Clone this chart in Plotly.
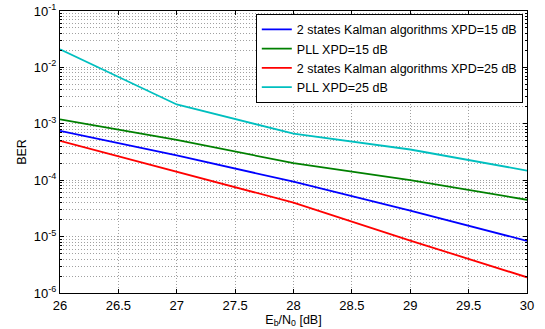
import plotly.graph_objects as go

ebn0 = [26, 27, 28, 29, 30]
kalman_15 = [7.5e-4, 2.75e-4, 9.4e-5, 2.9e-5, 8.4e-6]
pll_15 = [1.2e-3, 5.2e-4, 2.0e-4, 1.0e-4, 4.5e-5]
kalman_25 = [5.0e-4, 1.42e-4, 4.0e-5, 8.5e-6, 1.9e-6]
pll_25 = [2.1e-2, 2.2e-3, 6.7e-4, 3.5e-4, 1.48e-4]

names = ["2 states Kalman algorithms XPD=15 dB", "PLL XPD=15 dB",
         "2 states Kalman algorithms XPD=25 dB", "PLL XPD=25 dB"]
colors = ["#0000ff", "#008000", "#ff0000", "#00bfbf"]
series = [kalman_15, pll_15, kalman_25, pll_25]

y_exps = [-6, -5, -4, -3, -2, -1]
y_ticks = [10.0 ** e for e in y_exps]
y_labels = ["10<sup>%d</sup>" % e for e in y_exps]
y_minor = [m * 10.0 ** e for e in y_exps[:-1] for m in range(2, 10)]
x_ticks = [26, 26.5, 27, 27.5, 28, 28.5, 29, 29.5, 30]

fig = go.Figure()
for name, col, ys in zip(names, colors, series):
    fig.add_trace(go.Scatter(x=ebn0, y=ys, mode="lines", name=name,
                             line=dict(color=col, width=1.8)))

fam = "Liberation Sans, Arial, sans-serif"
grid = dict(showgrid=True, gridcolor="#a0a0a0", griddash="1px,2px", gridwidth=1)
fig.update_layout(
    width=545, height=329,
    margin=dict(l=60, r=18, t=11, b=36),
    paper_bgcolor="white", plot_bgcolor="white",
    font=dict(family=fam, size=12, color="black"),
    showlegend=True,
    legend=dict(x=0.991, y=0.99, xanchor="right", yanchor="top",
                bgcolor="white", bordercolor="black", borderwidth=1,
                font=dict(family=fam, size=12.5),
                tracegroupgap=0, itemwidth=30),
)
fig.update_xaxes(
    range=[26, 30], tickvals=x_ticks, ticktext=[str(v) for v in x_ticks],
    showline=True, linecolor="black", linewidth=1, mirror="allticks",
    ticks="inside", ticklen=4, tickcolor="black",
    zeroline=False, automargin=False,
    title=dict(text="E<sub>b</sub>/N<sub>0</sub> [dB]", standoff=1, font=dict(size=12.5)),
    tickfont=dict(size=13), **grid,
)
fig.update_yaxes(
    type="log", range=[-6, -1], tickvals=y_ticks, ticktext=y_labels,
    showline=True, linecolor="black", linewidth=1, mirror="allticks",
    ticks="inside", ticklen=4, tickcolor="black",
    minor=dict(tickvals=y_minor, ticks="inside", ticklen=2, tickcolor="black",
               showgrid=True, gridcolor="#a0a0a0", griddash="1px,2px", gridwidth=1),
    zeroline=False, automargin=False,
    title=dict(text="BER", standoff=4, font=dict(size=12.5)),
    tickfont=dict(size=13), **grid,
)
fig.write_html("out.html", config={"displayModeBar": False},
               post_script="document.body.style.margin='0';document.body.style.overflow='hidden';")
